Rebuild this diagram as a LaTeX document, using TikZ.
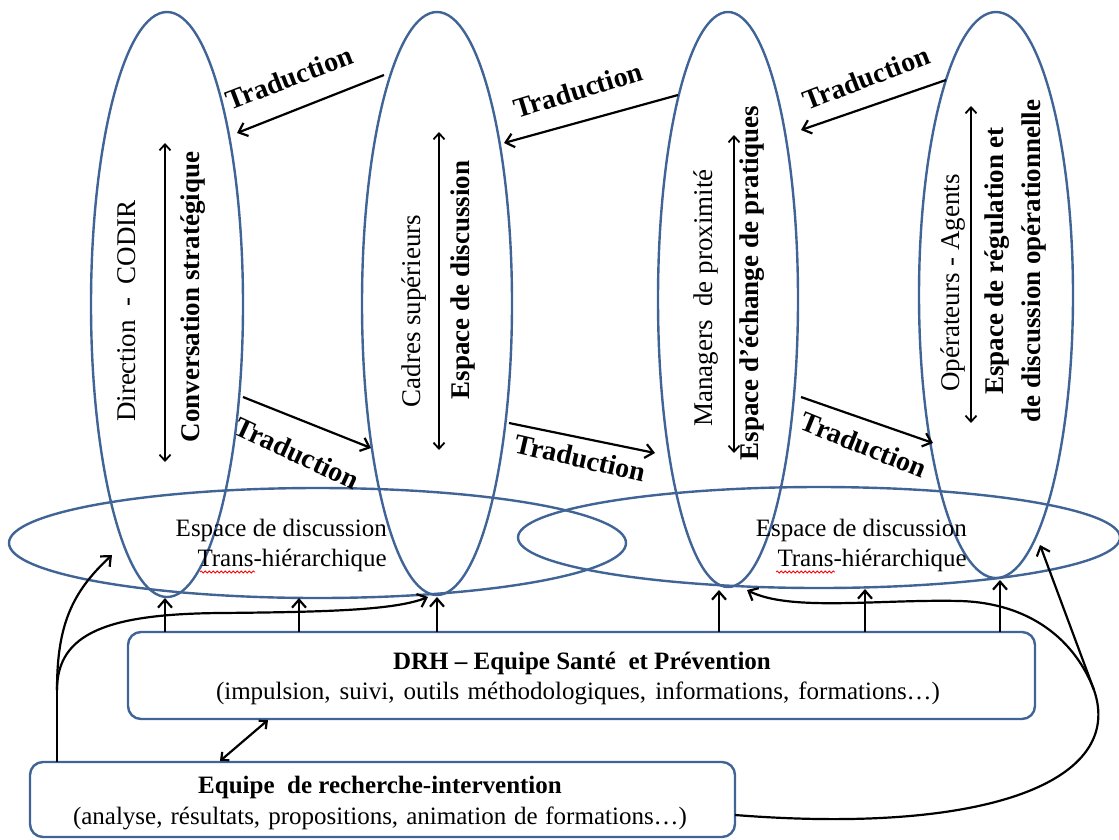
\documentclass[tikz,border=0pt]{standalone}
\usepackage{fontspec}
\setmainfont{Liberation Serif}
\usetikzlibrary{shapes.geometric,arrows.meta,decorations.pathmorphing}
\definecolor{ebl}{RGB}{64,100,150}
\begin{document}
\begin{tikzpicture}[x=1pt,y=-1pt,
 ell/.style={draw=ebl,line width=2.4pt,ellipse,inner sep=0pt,outer sep=0pt},
 box/.style={draw=ebl,line width=2.4pt,rounded corners=13pt,inner sep=0pt,outer sep=0pt},
 arr/.style={line width=2.2pt,-{Straight Barb[length=8pt,width=14pt]}},
 darr/.style={line width=1.8pt,{Straight Barb[length=6pt,width=11pt]}-{Straight Barb[length=6pt,width=11pt]}},
 plain/.style={line width=2.2pt},
 rot/.style={rotate=90,inner sep=0pt,font=\fontsize{27}{33}\selectfont},
 rotb/.style={rotate=90,inner sep=0pt,align=center,font=\fontsize{27}{37}\selectfont\bfseries},
 trad/.style={inner sep=0pt,font=\fontsize{28}{32}\selectfont\bfseries},
 hz/.style={inner sep=0pt,align=right,anchor=east,font=\fontsize{25}{30}\selectfont},
 btxt/.style={inner sep=0pt,font=\fontsize{25}{30}\selectfont},
 squig/.style={red,line width=0.8pt,decorate,decoration={snake,amplitude=1pt,segment length=4pt}},
]
\useasboundingbox (0,0) rectangle (1119,839);

% horizontal ellipses
\node[ell,minimum width=617pt,minimum height=110pt] (h1) at (317.5,543) {};
\node[ell,minimum width=602pt,minimum height=101pt] (h2) at (819,537.5) {};
% vertical ellipses
\node[ell,minimum width=152pt,minimum height=585pt] (e1) at (167,304.5) {};
\node[ell,minimum width=150pt,minimum height=583pt] (e2) at (437,303.5) {};
\node[ell,minimum width=140pt,minimum height=575pt] (e3) at (728,299.5) {};
\node[ell,minimum width=154pt,minimum height=566pt] (e4) at (996,295) {};

% texts in ellipses
\node[rot] (t1a) at (127,311) {Direction\ \ -\ \ CODIR};
\node[rotb] (t1b) at (193,297) {Conversation stratégique};
\node[rot] (t2a) at (414,311) {Cadres supérieurs};
\node[rotb] (t2b) at (463,280) {Espace de discussion};
\node[rot] (t3a) at (706,298) {Managers\ \ de proximité};
\node[rotb] (t3b) at (752,283) {Espace d’échange de pratiques};
\node[rot] (t4a) at (953,283) {Opérateurs - Agents};
\node[rotb] (t4b) at (1015.5,261) {Espace de régulation et\\de discussion opérationnelle};

% internal double arrows
\coordinate (d1a) at (165,143); \coordinate (d1b) at (165,462);
\coordinate (d2a) at (439,132); \coordinate (d2b) at (439,450);
\coordinate (d3a) at (734,135); \coordinate (d3b) at (734,453);
\coordinate (d4a) at (971,106); \coordinate (d4b) at (971,423);
\draw[darr] (d1a) -- (d1b);
\draw[darr] (d2a) -- (d2b);
\draw[darr] (d3a) -- (d3b);
\draw[darr] (d4a) -- (d4b);

% traduction arrows
\coordinate (a1s) at (384,75);  \coordinate (a1e) at (237,133);
\coordinate (a2s) at (678,95);  \coordinate (a2e) at (504,143);
\coordinate (a3s) at (946,80);  \coordinate (a3e) at (801,130);
\coordinate (a4s) at (243,397); \coordinate (a4e) at (371,448);
\coordinate (a5s) at (509,423); \coordinate (a5e) at (655,453);
\coordinate (a6s) at (801,397); \coordinate (a6e) at (933,443);
\draw[arr] (a1s) -- (a1e);
\draw[arr] (a2s) -- (a2e);
\draw[arr] (a3s) -- (a3e);
\draw[arr] (a4s) -- (a4e);
\draw[arr] (a5s) -- (a5e);
\draw[arr] (a6s) -- (a6e);
\node[trad,rotate=21] (tr1) at (289,78) {Traduction};
\node[trad,rotate=17] (tr2) at (578,90) {Traduction};
\node[trad,rotate=21] (tr3) at (866,78) {Traduction};
\node[trad,rotate=-25] (tr4) at (297,453) {Traduction};
\node[trad,rotate=-13] (tr5) at (580,458) {Traduction};
\node[trad,rotate=-22] (tr6) at (864,445) {Traduction};

% discussion texts
\node[hz] (hz1) at (387,545) {Espace de discussion\\Trans-hiérarchique};
\node[hz] (hz2) at (967,545) {Espace de discussion\\Trans-hiérarchique};
\draw[squig] (200,572) -- (255,572);
\draw[squig] (776,572) -- (835,572);

% boxes
\node[box,minimum width=907pt,minimum height=87pt] (drh) at (581.5,675.5) {};
\node[box,minimum width=705pt,minimum height=75pt] (eq) at (382.5,799.5) {};
\node[btxt,font=\fontsize{25}{30}\selectfont\bfseries] (drh1) at (582,663) {DRH – Equipe Santé\ \ et Prévention};
\node[btxt] (drh2) at (578,693) {\makebox[724pt][s]{(impulsion, suivi, outils méthodologiques, informations, formations…)}};
\node[btxt,font=\fontsize{25}{30}\selectfont\bfseries] (eq1) at (380,787) {Equipe\ \ de recherche-intervention};
\node[btxt] (eq2) at (380,818) {\makebox[614pt][s]{(analyse, résultats, propositions, animation de formations…)}};

% vertical arrows from DRH
\foreach \i/\x/\y in {1/165/598,2/299/598,3/437/597,4/719/590,5/865/589,6/1000/580}{
  \coordinate (u\i) at (\x,632);
  \coordinate (v\i) at (\x,\y);
  \draw[arr] (u\i) -- (v\i);
}
% double arrow between boxes
\coordinate (bb1) at (268,720); \coordinate (bb2) at (220,761);
\draw[darr,line width=2.2pt] (bb1) -- (bb2);

% left bundle
\coordinate (L0) at (57,762); \coordinate (Ls) at (57,690);
\coordinate (La) at (112,555); \coordinate (Lb) at (428,597);
\draw[plain] (L0) -- (Ls);
\draw[arr] (Ls) .. controls (57,625) and (72,592) .. (La);
\draw[arr] (Ls) .. controls (57,632) and (110,614) .. (220,613) .. controls (330,612) and (395,610) .. (Lb);

% right bundle
\coordinate (R0) at (735,815); \coordinate (Rs) at (1094,690);
\coordinate (Ra) at (1040,545); \coordinate (Rb) at (747,590);
\draw[plain] (R0) .. controls (990,835) and (1125,780) .. (Rs);
\draw[arr] (Rs) -- (Ra);
\draw[arr] (Rs) .. controls (1075,640) and (1030,603) .. (960,601) .. controls (880,599) and (790,612) .. (Rb);
\end{tikzpicture}
\end{document}
